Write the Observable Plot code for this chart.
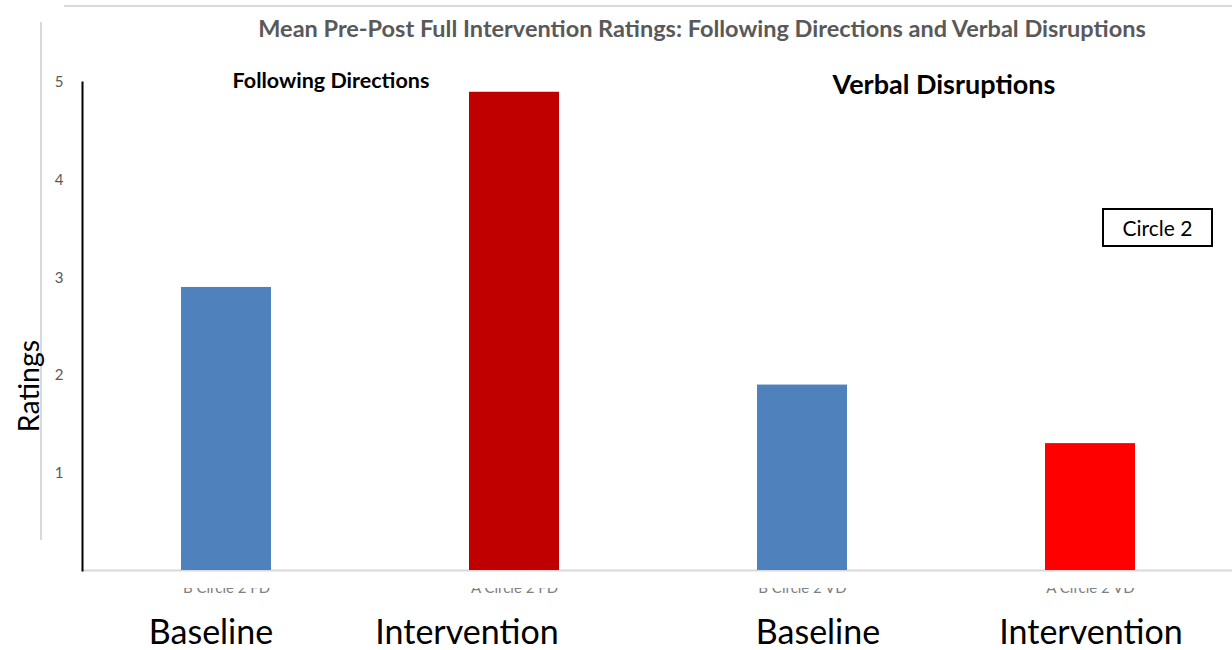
<!DOCTYPE html>
<html><head><meta charset="utf-8">
<script src="https://cdn.jsdelivr.net/npm/d3@7"></script>
<script src="https://cdn.jsdelivr.net/npm/@observablehq/plot@0.6"></script>
<style>
body{margin:0;background:#fff;font-family:Lato, "Open Sans", sans-serif;}
#wrap{position:relative;width:1232px;height:650px;overflow:hidden;background:#fff;}
#chart{position:absolute;left:0;top:0;}
.t{position:absolute;white-space:nowrap;transform:translate(-50%,-50%);line-height:1;}
.line{position:absolute;background:#d9d9d9;}
</style></head><body>
<div id="wrap">
  <div class="line" style="left:40px;top:22px;width:2px;height:518px"></div>
  <div class="line" style="left:64px;top:5px;width:1168px;height:2px"></div>
  <div id="chart"></div>
  <div class="line" style="left:100px;top:572px;width:1132px;height:16px;background:#fff"></div>
  <div class="t" id="title" style="left:702px;top:29px;font-weight:bold;font-size:23.5px;color:#595959">Mean Pre-Post Full Intervention Ratings: Following Directions and Verbal Disruptions</div>
  <div class="t" style="left:331px;top:81px;font-weight:bold;font-size:21.5px;color:#000">Following Directions</div>
  <div class="t" style="left:944px;top:83px;font-weight:bold;font-size:27px;color:#000">Verbal Disruptions</div>
  <div style="position:absolute;left:1102px;top:208px;width:107px;height:35px;border:2px solid #000;font-size:21px;display:flex;align-items:center;justify-content:center">Circle 2</div>
  <div class="t" style="left:28px;top:386px;font-size:28.5px;transform:translate(-50%,-50%) rotate(-90deg)">Ratings</div>
  <div id="groups"></div>
</div>
<script>
const categories = ["B Circle 2 FD", "A Circle 2 FD", "B Circle 2 VD", "A Circle 2 VD"];
const groupLabels = ["Baseline", "Intervention", "Baseline", "Intervention"];
const values = [2.9, 4.9, 1.9, 1.3];
const colors = ["#4F81BD", "#C00000", "#4F81BD", "#FF0000"];
const yTicks = [1, 2, 3, 4, 5];

const data = categories.map((c, i) => ({cat: c, value: values[i], color: colors[i]}));

const plot = Plot.plot({
  width: 1232, height: 650,
  marginTop: 82, marginBottom: 80, marginLeft: 82, marginRight: 0,
  style: {fontFamily: "Lato, sans-serif", background: "transparent"},
  x: {domain: categories, range: [82, 1234], paddingInner: 0.6875, paddingOuter: 0.34375, label: null},
  y: {domain: [0, 5], label: null},
  color: {type: "identity"},
  marks: [
    Plot.ruleY([0], {stroke: "#d9d9d9", strokeWidth: 2}),
    Plot.barY(data, {x: "cat", y: "value", fill: "color"}),
    Plot.axisY({ticks: yTicks, tickFormat: d3.format("d"), tickSize: 0, tickPadding: 19, fontSize: 15, color: "#595959", label: null}),
    Plot.axisX({tickSize: 0, tickPadding: 12, fontSize: 15, color: "#808080", label: null}),
    Plot.frame({anchor: "left", stroke: "#000", strokeWidth: 2})
  ]
});
document.getElementById("chart").appendChild(plot);

// group labels under bars (textbox positions offset from bar centres as in reference)
const offsets = [-15, -47, 16, 1];
const xs = plot.scale("x");
const g = document.getElementById("groups");
groupLabels.forEach((lab, i) => {
  const d = document.createElement("div");
  d.className = "t";
  d.style.left = (xs.apply(categories[i]) + xs.bandwidth / 2 + offsets[i]) + "px";
  d.style.top = "631px";
  d.style.fontSize = "34px";
  d.textContent = lab;
  g.appendChild(d);
});
</script>
</body></html>
